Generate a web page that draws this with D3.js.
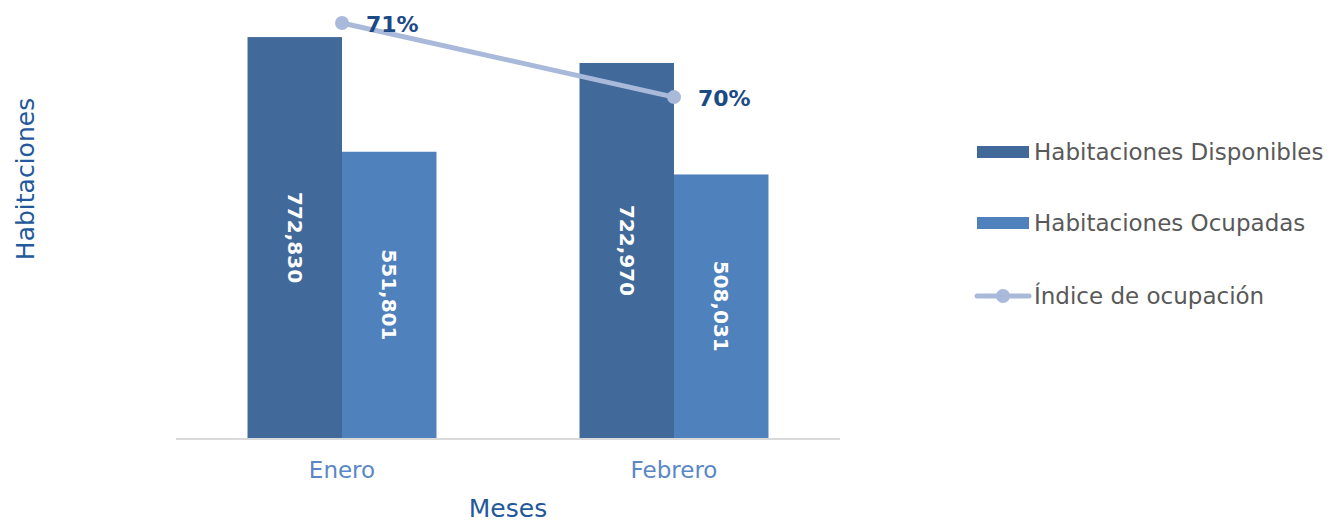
<!DOCTYPE html>
<html>
<head>
<meta charset="utf-8">
<script src="https://cdn.jsdelivr.net/npm/d3@7"></script>
<style>
  body { margin: 0; background: #fff; }
  svg { display: block; font-family: 'DejaVu Sans', sans-serif; }
</style>
</head>
<body>
<div id="chart"></div>
<script>
// data
const months = ['Enero', 'Febrero'];
const seriesNames = ['Habitaciones Disponibles', 'Habitaciones Ocupadas'];
const disponibles = [772830, 722970];
const ocupadas = [551801, 508031];
const indice = [0.714, 0.7027];
const indiceLabels = ['71%', '70%'];
const lineName = 'Índice de ocupación';

const colors = ['#41699a', '#4f81bd'];
const lineColor = '#a9b9da';

const width = 1330, height = 523;
const plot = { left: 176, right: 840, top: 23, bottom: 438 };

const svg = d3.select('#chart').append('svg')
  .attr('width', width)
  .attr('height', height);

// scales
const x0 = d3.scaleBand().domain(months).range([plot.left, plot.right]);
const x1 = d3.scaleBand().domain(seriesNames).range([0, x0.bandwidth()])
  .paddingInner(0).paddingOuter(0.757);
const y = d3.scaleLinear().domain([0, 800000]).range([plot.bottom, plot.top]);
const y2 = d3.scaleLinear().domain([0.6507, 0.714]).range([plot.bottom, plot.top]);

const rows = months.map((m, i) => ({ month: m, values: [disponibles[i], ocupadas[i]] }));

// bars
const groups = svg.selectAll('.grp')
  .data(rows)
  .enter().append('g')
  .attr('transform', d => 'translate(' + x0(d.month) + ',0)');

groups.selectAll('rect')
  .data(d => d.values.map((v, j) => ({ key: seriesNames[j], v: v, j: j })))
  .enter().append('rect')
  .attr('x', d => x1(d.key))
  .attr('width', x1.bandwidth())
  .attr('y', d => y(d.v))
  .attr('height', d => plot.bottom - y(d.v))
  .attr('fill', d => colors[d.j]);

// value labels, rotated
groups.selectAll('.val')
  .data(d => d.values.map((v, j) => ({ key: seriesNames[j], v: v })))
  .enter().append('text')
  .attr('transform', d => {
    const cx = x1(d.key) + x1.bandwidth() / 2;
    const cy = (y(d.v) + plot.bottom) / 2;
    return 'translate(' + cx + ',' + cy + ') rotate(90)';
  })
  .attr('text-anchor', 'middle')
  .attr('dy', '0.35em')
  .attr('fill', '#fff')
  .attr('font-weight', 'bold')
  .attr('font-size', 20)
  .text(d => d3.format(',')(d.v));

// x axis line
svg.append('line')
  .attr('x1', plot.left).attr('x2', plot.right)
  .attr('y1', plot.bottom + 1).attr('y2', plot.bottom + 1)
  .attr('stroke', '#d9d9d9').attr('stroke-width', 2);

// month labels
svg.selectAll('.mlab')
  .data(months)
  .enter().append('text')
  .attr('x', d => x0(d) + x0.bandwidth() / 2)
  .attr('y', 478)
  .attr('text-anchor', 'middle')
  .attr('fill', '#5a87c6')
  .attr('font-size', 23)
  .text(d => d);

// axis titles
svg.append('text')
  .attr('x', 508).attr('y', 517)
  .attr('text-anchor', 'middle')
  .attr('fill', '#23599a')
  .attr('font-size', 25)
  .text('Meses');

svg.append('text')
  .attr('transform', 'translate(34,179) rotate(-90)')
  .attr('text-anchor', 'middle')
  .attr('fill', '#23599a')
  .attr('font-size', 25)
  .text('Habitaciones');

// line series
const pts = months.map((m, i) => ({ x: x0(m) + x0.bandwidth() / 2, y: y2(indice[i]), label: indiceLabels[i] }));

svg.append('path')
  .datum(pts)
  .attr('d', d3.line().x(d => d.x).y(d => d.y))
  .attr('fill', 'none')
  .attr('stroke', lineColor)
  .attr('stroke-width', 5)
  .attr('stroke-linecap', 'round');

svg.selectAll('.dot')
  .data(pts)
  .enter().append('circle')
  .attr('cx', d => d.x).attr('cy', d => d.y)
  .attr('r', 7)
  .attr('fill', lineColor);

svg.selectAll('.pct')
  .data(pts)
  .enter().append('text')
  .attr('x', d => d.x + 24)
  .attr('y', d => d.y + 9)
  .attr('fill', '#1b4a85')
  .attr('font-weight', 'bold')
  .attr('font-size', 22)
  .text(d => d.label);

// legend
const legend = svg.append('g');
const legY = [152, 223];
seriesNames.forEach((name, i) => {
  legend.append('rect')
    .attr('x', 977).attr('y', legY[i] - 6)
    .attr('width', 52).attr('height', 12)
    .attr('fill', colors[i]);
  legend.append('text')
    .attr('x', 1034).attr('y', legY[i])
    .attr('dy', '0.35em')
    .attr('fill', '#595959')
    .attr('font-size', 23)
    .text(name);
});
legend.append('line')
  .attr('x1', 977).attr('x2', 1029)
  .attr('y1', 296).attr('y2', 296)
  .attr('stroke', lineColor).attr('stroke-width', 5)
  .attr('stroke-linecap', 'round');
legend.append('circle')
  .attr('cx', 1003).attr('cy', 296).attr('r', 7)
  .attr('fill', lineColor);
legend.append('text')
  .attr('x', 1034).attr('y', 296)
  .attr('dy', '0.35em')
  .attr('fill', '#595959')
  .attr('font-size', 23)
  .text(lineName);
</script>
</body>
</html>
